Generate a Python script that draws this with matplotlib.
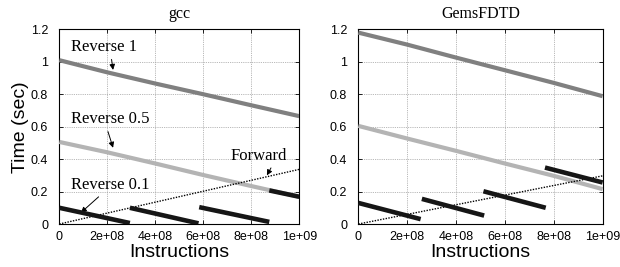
import matplotlib
matplotlib.use('Agg')
import matplotlib.pyplot as plt
import numpy as np

# ***** Data *****
x_pts = [0, 2e8, 4e8, 6e8, 8e8, 1e9]

# gcc
gcc_rev1 = [1.01, 0.935, 0.866, 0.80, 0.732, 0.665]
gcc_rev05 = [0.506, 0.442, 0.373, 0.302, 0.234, 0.168]
gcc_fwd_x = [0, 1e9]
gcc_fwd = [0.0, 0.337]
gcc_rev01_x = [[0, 2.94e8], [2.94e8, 5.8e8], [5.83e8, 8.75e8], [8.75e8, 1e9]]
gcc_rev01 = [[0.10, 0.006], [0.10, 0.004], [0.104, 0.013], [0.207, 0.168]]

# GemsFDTD
gems_rev1 = [1.18, 1.106, 1.026, 0.948, 0.87, 0.788]
gems_rev05 = [0.605, 0.527, 0.451, 0.373, 0.297, 0.215]
gems_fwd_x = [0, 1e9]
gems_fwd = [0.0, 0.297]
gems_rev01_x = [[0, 2.55e8], [2.6e8, 5.15e8], [5.12e8, 7.67e8], [7.64e8, 1e9]]
gems_rev01 = [[0.13, 0.03], [0.155, 0.052], [0.202, 0.10], [0.348, 0.256]]

yticks = [0, 0.2, 0.4, 0.6, 0.8, 1, 1.2]
ytick_labels = ['0', '0.2', '0.4', '0.6', '0.8', '1', '1.2']
xticks = [0, 2e8, 4e8, 6e8, 8e8, 1e9]
xtick_labels = ['0', '2e+08', '4e+08', '6e+08', '8e+08', '1e+09']
# ***********************************

C_REV1 = '#808080'
C_REV05 = '#b4b4b4'
C_REV01 = '#161616'

serif = ['Liberation Serif', 'DejaVu Serif']
sans = ['Liberation Sans', 'DejaVu Sans']

fig = plt.figure(figsize=(6.2, 2.67), dpi=100)
ax1 = fig.add_axes([0.0957, 0.161, 0.387, 0.729])
ax2 = fig.add_axes([0.578, 0.161, 0.394, 0.729])


def draw_panel(ax, title, rev1, rev05, fx, fy, sx, sy):
    ax.plot(x_pts, rev1, color=C_REV1, lw=3.0, solid_capstyle='butt', zorder=3)
    ax.plot(x_pts, rev05, color=C_REV05, lw=3.0, solid_capstyle='butt', zorder=3)
    ax.plot(fx, fy, color='black', lw=1.0, linestyle=(0, (1, 1)), zorder=3)
    for xs, ys in zip(sx, sy):
        ax.plot(xs, ys, color=C_REV01, lw=3.3, solid_capstyle='butt', zorder=4)
    ax.set_xlim(0, 1e9)
    ax.set_ylim(0, 1.2)
    ax.set_xticks(xticks)
    ax.set_xticklabels(xtick_labels, family=sans, fontsize=9)
    ax.set_yticks(yticks)
    ax.set_yticklabels(ytick_labels, family=sans, fontsize=9)
    ax.tick_params(direction='in', length=3, width=0.6, top=True, right=True)
    ax.tick_params(axis='x', pad=5)
    ax.tick_params(axis='y', pad=8)
    ax.grid(True, color='#a0a0a0', linestyle=(0, (1, 1.2)), linewidth=0.6)
    for s in ax.spines.values():
        s.set_linewidth(0.8)
    ax.set_title(title, family=serif, fontsize=11.5, pad=8)
    ax.set_xlabel('Instructions', family=sans, fontsize=14, labelpad=1)


draw_panel(ax1, 'gcc', gcc_rev1, gcc_rev05, gcc_fwd_x, gcc_fwd, gcc_rev01_x, gcc_rev01)
draw_panel(ax2, 'GemsFDTD', gems_rev1, gems_rev05, gems_fwd_x, gems_fwd, gems_rev01_x, gems_rev01)
ax1.set_ylabel('Time (sec)', family=sans, fontsize=14, labelpad=1)

# annotations on the gcc panel
arrow = dict(arrowstyle='-|>', color='black', lw=0.7, mutation_scale=8, shrinkA=1, shrinkB=0)
ax1.annotate('Reverse 1', xy=(0.224e9, 0.95), xytext=(0.05e9, 1.065),
             family=serif, fontsize=12, arrowprops=dict(arrow, relpos=(0.6, 0.0)))
ax1.annotate('Reverse 0.5', xy=(0.224e9, 0.47), xytext=(0.05e9, 0.62),
             family=serif, fontsize=12, arrowprops=dict(arrow, relpos=(0.45, 0.0)))
ax1.annotate('Forward', xy=(0.865e9, 0.30), xytext=(0.715e9, 0.395),
             family=serif, fontsize=12, arrowprops=dict(arrow, relpos=(0.75, 0.0)))
ax1.annotate('Reverse 0.1', xy=(0.09e9, 0.07), xytext=(0.05e9, 0.215),
             family=serif, fontsize=12, arrowprops=dict(arrow, relpos=(0.4, 0.0)))

fig.savefig('out.png', dpi=100)
